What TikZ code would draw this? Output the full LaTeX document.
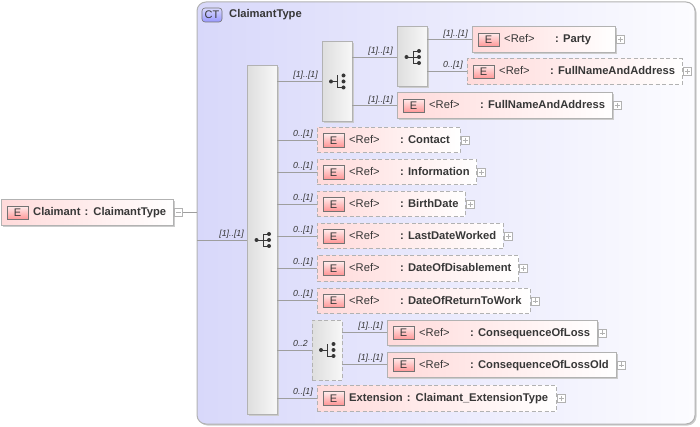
\documentclass[tikz,border=0pt]{standalone}
\usepackage{fontspec}
\setmainfont{Liberation Sans}
\usetikzlibrary{shadows}

\definecolor{ctleft}{RGB}{216,216,250}
\definecolor{ctright}{RGB}{252,252,255}
\definecolor{elleft}{RGB}{255,218,218}
\definecolor{edge}{RGB}{178,178,178}
\definecolor{ink}{RGB}{55,55,55}

\newcommand{\rf}{\makebox[51pt][l]{\mdseries\textless Ref\textgreater}}
\newcommand{\elem}[6]{
    \node[#5,minimum width=#4pt] (#1) at (#2,#3) {};
    \node[badge] (#1b) at ([xshift=16.5pt,yshift=-13pt]#1.north west) {E};
    \node[eltext] (#1t) at ([xshift=32pt,yshift=-16pt]#1.north west) {#6};
    \node[expander] (#1p) at ([xshift=5pt]#1.east) {};
    \draw[sign] (#1p.west) -- (#1p.east);
}

\begin{document}
\begin{tikzpicture}[x=1pt,y=-1pt]
    \tikzstyle{base}=[anchor=north west,minimum height=25.5pt,inner sep=0pt,outer sep=0pt]
    \tikzstyle{solidel}=[base,left color=elleft,right color=white,draw=edge,line width=1pt,
        general shadow={shadow xshift=1.5pt,shadow yshift=-1.5pt,fill=black!20}]
    \tikzstyle{dashel}=[base,left color=elleft,right color=white,draw=edge,line width=1pt,
        dash pattern=on 4pt off 2.5pt]
    \tikzstyle{badge}=[minimum width=21pt,minimum height=13.5pt,inner sep=0pt,top color=red!8,
        bottom color=red!42,draw=ink!70,line width=0.6pt,text=ink,font=\fontsize{11}{11}\selectfont]
    \tikzstyle{eltext}=[anchor=base west,inner sep=0pt,text=ink,font=\fontsize{11.2}{13}\selectfont\bfseries]
    \tikzstyle{expander}=[draw=edge,fill=white,minimum size=8pt,inner sep=0pt,outer sep=0pt,line width=0.5pt]
    \tikzstyle{sign}=[draw=edge,line width=0.5pt,shorten >=1.5pt,shorten <=1.5pt]
    \tikzstyle{group}=[anchor=north west,minimum width=30pt,inner sep=0pt,outer sep=0pt,left color=black!13,
        right color=black!3,draw=edge,line width=1pt,
        general shadow={shadow xshift=1.5pt,shadow yshift=-1.5pt,fill=black!20}]
    \tikzstyle{dashgroup}=[anchor=north west,minimum width=30pt,inner sep=0pt,outer sep=0pt,left color=black!13,
        right color=black!3,draw=edge,line width=1pt,dash pattern=on 4pt off 2.5pt]
    \tikzstyle{fwd}=[draw=black!38,line width=0.7pt]
    \tikzstyle{mult}=[anchor=east,inner sep=0pt,text=ink,font=\fontsize{8.8}{9}\selectfont\itshape]
    \tikzset{
        dots/.pic={
            \fill[ink] (-6,0) circle (2) (6.5,-6) circle (2) (6.5,0) circle (2) (6.5,6) circle (2);
        },
        seqicon/.pic={
            \pic {dots};
            \draw[ink,line width=0.7pt] (-6,0) -- (0.5,0) (0.5,-6) -- (0.5,6) (0.5,-6) -- (6.5,-6) (0.5,0) -- (6.5,0) (0.5,6) -- (6.5,6);
        },
        choiceicon/.pic={
            \pic {dots};
            \draw[ink,line width=0.7pt] (-6,0) -- (0.5,0) (0.5,-6) -- (0.5,6) -- (6.5,6);
        }
    }
    \def\ex{317}

    \useasboundingbox (0,0) rectangle (700,427);

    \node[anchor=north west,minimum width=498pt,minimum height=422pt,inner sep=0pt,outer sep=0pt,rounded corners=9pt,
        left color=ctleft,right color=ctright,draw=edge,line width=1pt,
        general shadow={shadow xshift=1.5pt,shadow yshift=-1.5pt,fill=black!20}] (ct) at (197,2) {};
    \node[minimum width=20pt,minimum height=14pt,inner sep=0pt,rounded corners=3pt,top color=blue!15,bottom color=blue!40,
        draw=ink!70,line width=0.6pt,text=ink,font=\fontsize{11}{11}\selectfont] (ctb) at (212,15) {CT};
    \node[eltext] (ctt) at (229,17.5) {ClaimantType};

    \node[group,minimum height=348pt] (seq1) at (247,66) {};
    \node[group,minimum height=80pt] (seq2) at (322,41.5) {};
    \node[group,minimum height=60pt] (seq3) at (397,27) {};
    \node[dashgroup,minimum height=60pt] (cho1) at (312,320) {};
    \pic at ([xshift=0.5pt]seq1.center) {seqicon};
    \pic at (seq2.center) {choiceicon};
    \pic at ([xshift=0.5pt]seq3.center) {seqicon};
    \pic at (cho1.center) {choiceicon};

    \elem{claimant}{1}{200}{172.5}{solidel}{Claimant\hspace{1pt} :\hspace{1pt} ClaimantType}
    \elem{party}{472}{27}{143.5}{solidel}{\rf: Party}
    \elem{fulla}{467}{59}{215.5}{dashel}{\rf: FullNameAndAddress}
    \elem{fullb}{397}{93}{215}{solidel}{\rf: FullNameAndAddress}
    \elem{contact}{\ex}{127.5}{143}{dashel}{\rf: Contact}
    \elem{info}{\ex}{159.5}{159.5}{dashel}{\rf: Information}
    \elem{birth}{\ex}{191.5}{148}{dashel}{\rf: BirthDate}
    \elem{last}{\ex}{223.5}{186}{dashel}{\rf: LastDateWorked}
    \elem{disable}{\ex}{255.5}{201.5}{dashel}{\rf: DateOfDisablement}
    \elem{return}{\ex}{288}{213}{dashel}{\rf: DateOfReturnToWork}
    \elem{loss}{387}{320}{210}{solidel}{\rf: ConsequenceOfLoss}
    \elem{lossold}{387}{352}{229}{solidel}{\rf: ConsequenceOfLossOld}
    \elem{extn}{\ex}{385.5}{239.5}{dashel}{Extension\hspace{1pt} :\hspace{1pt} Claimant\_ExtensionType}

    \foreach \e in {party,fulla,fullb,contact,info,birth,last,disable,return,loss,lossold,extn}
        \draw[sign] (\e p.north) -- (\e p.south);

    \draw [fwd] (claimantp.east) -- (claimantp.east -| ct.west);
    \draw [fwd] (seq1.west -| ct.west) -- (seq1.west);
    \draw [fwd] (seq1.east |- seq2.west) -- (seq2.west);
    \draw [fwd] (seq2.east |- seq3.west) -- (seq3.west);
    \draw [fwd] (seq3.east |- party.west) -- (party.west);
    \draw [fwd] (seq3.east |- fulla.west) -- (fulla.west);
    \draw [fwd] (seq2.east |- fullb.west) -- (fullb.west);
    \draw [fwd] (seq1.east |- contact.west) -- (contact.west);
    \draw [fwd] (seq1.east |- info.west) -- (info.west);
    \draw [fwd] (seq1.east |- birth.west) -- (birth.west);
    \draw [fwd] (seq1.east |- last.west) -- (last.west);
    \draw [fwd] (seq1.east |- disable.west) -- (disable.west);
    \draw [fwd] (seq1.east |- return.west) -- (return.west);
    \draw [fwd] (seq1.east |- cho1.west) -- (cho1.west);
    \draw [fwd] (cho1.east |- loss.west) -- (loss.west);
    \draw [fwd] (cho1.east |- lossold.west) -- (lossold.west);
    \draw [fwd] (seq1.east |- extn.west) -- (extn.west);

    \node[mult] (m1) at (244,234) {[1]..[1]};
    \node[mult] (m2) at (318,75) {[1]..[1]};
    \node[mult] (m3) at (393,51) {[1]..[1]};
    \node[mult] (m4) at (468,34) {[1]..[1]};
    \node[mult] (m5) at (463,65) {0..[1]};
    \node[mult] (m6) at (393,100) {[1]..[1]};
    \node[mult] (m7) at (313,134) {0..[1]};
    \node[mult] (m8) at (313,166) {0..[1]};
    \node[mult] (m9) at (313,198) {0..[1]};
    \node[mult] (m10) at (313,230.5) {0..[1]};
    \node[mult] (m11) at (313,262.5) {0..[1]};
    \node[mult] (m12) at (313,294.5) {0..[1]};
    \node[mult] (m13) at (308,343.5) {0..2};
    \node[mult] (m14) at (383,326.5) {[1]..[1]};
    \node[mult] (m15) at (383,358.5) {[1]..[1]};
    \node[mult] (m16) at (313,392.5) {0..[1]};
\end{tikzpicture}
\end{document}
